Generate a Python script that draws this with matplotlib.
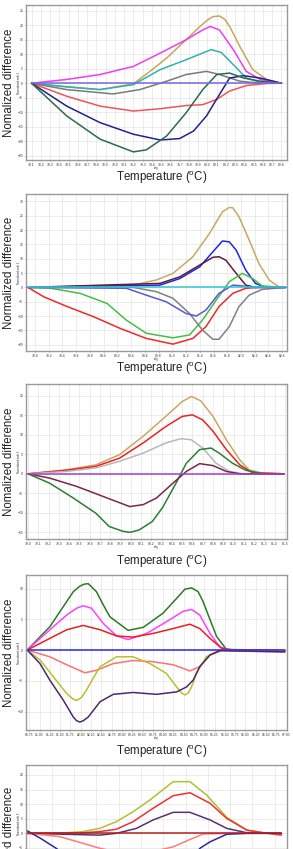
import numpy as np
import matplotlib
matplotlib.use("Agg")
import matplotlib.pyplot as plt

plt.rcParams["font.family"] = ["Liberation Sans", "DejaVu Sans"]
plt.rcParams["mathtext.fontset"] = "custom"
plt.rcParams["mathtext.rm"] = "Liberation Sans"

# ── panel 1 ────────────────────────────────────────────────
P1_GOLD_T = [78.1, 78.48, 78.84, 79.2, 79.38, 79.56, 79.77, 79.92, 80.0, 80.06, 80.13, 80.19, 80.24, 80.35, 80.49, 80.64, 80.8]
P1_GOLD_V = [0, -1.3, -2.2, -0.2, 4.1, 8.7, 15, 19.6, 21.8, 23, 23.2, 22, 19.6, 12.7, 4.7, 1.3, 0]
P1_MAG_T = [78.1, 78.48, 78.84, 79.2, 79.49, 79.77, 79.95, 80.03, 80.13, 80.28, 80.42, 80.57, 80.8]
P1_MAG_V = [0, 1.3, 3, 5.8, 10.4, 15, 18.4, 19.6, 18.4, 11.6, 4.1, 1.3, 0]
P1_TEAL_T = [78.1, 78.48, 78.84, 79.2, 79.49, 79.77, 80.04, 80.15, 80.28, 80.42, 80.57, 80.8]
P1_TEAL_V = [0, -1.2, -2.2, -0.5, 4.7, 8.1, 11.6, 10.6, 6.4, 1.8, 0.3, 0]
P1_GRAY_T = [78.1, 78.48, 78.98, 79.27, 79.56, 79.77, 79.99, 80.13, 80.35, 80.57, 80.8]
P1_GRAY_V = [0, -2.2, -3.7, -2.2, 0.7, 3, 4.1, 3, 0.7, 0, 0]
P1_RED_T = [78.1, 78.48, 78.84, 79.2, 79.49, 79.77, 79.95, 80.1, 80.24, 80.42, 80.64, 80.8]
P1_RED_V = [0, -4.5, -7.9, -9.6, -8.8, -7.7, -7.4, -5.6, -2.7, -0.8, -0.1, 0]
P1_NAVY_T = [78.1, 78.48, 78.84, 79.2, 79.49, 79.7, 79.85, 79.99, 80.13, 80.24, 80.39, 80.57, 80.8]
P1_NAVY_V = [0, -7.9, -13.6, -17.6, -19.6, -19.1, -16.5, -11.3, -3.9, 1.8, 2.6, 1.8, 0]
P1_GREEN_T = [78.1, 78.48, 78.84, 79.2, 79.34, 79.56, 79.77, 79.95, 80.1, 80.24, 80.39, 80.57, 80.8]
P1_GREEN_V = [0, -11.3, -19.3, -23.7, -23, -18.2, -10.2, -2.2, 3, 3.5, 1.8, 0.7, 0]
P1_FLAT_T = [78.1, 80.8]
P1_FLAT_V = [0, 0]

# ── panel 2 ────────────────────────────────────────────────
P2_GOLD_T = [78.9, 80.43, 80.77, 81.01, 81.3, 81.54, 81.73, 81.83, 81.88, 81.97, 82.12, 82.26, 82.41, 82.55, 82.65]
P2_GOLD_V = [0, 0.8, 2.6, 4.9, 10.7, 18.8, 26.4, 27.9, 27.8, 24.7, 16.5, 8.4, 2.6, 0.2, 0]
P2_BLUE_T = [78.9, 80.82, 81.11, 81.4, 81.59, 81.73, 81.83, 81.93, 82.07, 82.21, 82.36, 82.65]
P2_BLUE_V = [0, 0.8, 3.1, 7.2, 12.4, 16.2, 15.9, 13, 6, 1.4, 0, 0]
P2_MAROON_T = [78.9, 80.82, 81.11, 81.4, 81.59, 81.68, 81.78, 81.93, 82.07, 82.21, 82.65]
P2_MAROON_V = [0, 1.4, 3.7, 7.8, 10.5, 10.7, 9.5, 4.9, 0.8, 0, 0]
P2_GREEN_T = [78.9, 79.23, 79.66, 80.05, 80.33, 80.62, 81.01, 81.25, 81.44, 81.64, 81.83, 82.02, 82.17, 82.31, 82.65]
P2_GREEN_V = [0, -0.3, -2.1, -5.6, -11.4, -16, -17.6, -16.6, -11.4, -4.4, 2, 4.9, 3.1, 0.5, 0]
P2_RED_T = [78.9, 79.13, 79.47, 79.85, 80.24, 80.62, 81.01, 81.3, 81.49, 81.68, 81.88, 82.07, 82.26, 82.65]
P2_RED_V = [0, -3.3, -6.7, -10.2, -14.3, -17.8, -19.8, -17.8, -13.7, -6.7, -2.1, -0.3, 0, 0]
P2_GRAY_T = [78.9, 80.43, 80.77, 81.01, 81.25, 81.44, 81.59, 81.68, 81.83, 81.97, 82.12, 82.31, 82.65]
P2_GRAY_V = [0, 0, -1.5, -3.8, -9.1, -14.9, -18.1, -18.1, -13.7, -6.7, -2.7, -0.7, 0]
P2_SLATE_T = [78.9, 80.33, 80.62, 80.91, 81.2, 81.35, 81.49, 81.68, 81.88, 82.02, 82.17, 82.65]
P2_SLATE_V = [0, -0.3, -2.7, -5, -9.1, -10, -7.9, -2.1, 0.8, 0.5, 0, 0]
P2_FLAT_T = [78.9, 82.65]
P2_FLAT_V = [0, 0]

# ── panel 3 ────────────────────────────────────────────────
P3_GOLD_T = [79.0, 79.37, 79.66, 79.89, 80.12, 80.34, 80.5, 80.59, 80.68, 80.8, 80.93, 81.06, 81.15, 81.28, 81.49]
P3_GOLD_V = [0, 1, 2.3, 4.9, 9.6, 14.7, 18.5, 19.8, 18.7, 14.7, 8.7, 3.6, 1, 0.2, 0]
P3_RED_T = [79.0, 79.37, 79.66, 79.89, 80.12, 80.34, 80.5, 80.6, 80.7, 80.8, 80.93, 81.06, 81.18, 81.49]
P3_RED_V = [0, 0.9, 1.9, 4, 7.9, 12.1, 14.7, 15.1, 13.8, 10.9, 6.2, 2.3, 0.3, 0]
P3_LGRAY_T = [79.0, 79.37, 79.66, 79.89, 80.12, 80.34, 80.49, 80.59, 80.7, 80.83, 80.96, 81.09, 81.49]
P3_LGRAY_V = [0, 0.6, 1.5, 3.2, 5.3, 7.9, 9, 8.7, 6.6, 2.7, 0.6, 0, 0]
P3_GREEN_T = [79.0, 79.21, 79.44, 79.66, 79.79, 79.92, 79.99, 80.08, 80.21, 80.31, 80.44, 80.54, 80.67, 80.78, 80.86, 80.99, 81.12, 81.28, 81.49]
P3_GREEN_V = [0, -2.4, -6.2, -10.1, -13.5, -14.7, -15, -14.4, -12.2, -8.6, -2.4, 2.7, 6.2, 6.6, 5.3, 2.7, 0.9, 0, 0]
P3_MAROON_T = [79.0, 79.21, 79.47, 79.73, 79.99, 80.12, 80.25, 80.41, 80.54, 80.67, 80.8, 80.93, 81.06, 81.49]
P3_MAROON_V = [0, -1.1, -3.2, -5.8, -8.4, -7.9, -6.2, -2.4, 0.6, 2.6, 2.1, 0.6, 0, 0]
P3_FLAT_T = [79.0, 81.49]
P3_FLAT_V = [0, 0]

# ── panel 4 ────────────────────────────────────────────────
P4_DGREEN_T = [80.7, 81.25, 81.66, 81.82, 81.98, 82.08, 82.18, 82.38, 82.55, 82.71, 83.15, 83.52, 84.0, 84.41, 84.53, 84.69, 84.85, 84.97, 85.05, 85.3, 85.54, 86.96]
P4_DGREEN_V = [0, 3.8, 7.9, 9.5, 10.4, 10.7, 10.8, 9.5, 7.3, 5.4, 3.2, 3.7, 6, 9, 9.9, 10.1, 9.5, 7.9, 6.5, 2.2, 0.1, -0.1]
P4_MAG_T = [80.7, 81.25, 81.66, 81.9, 82.06, 82.26, 82.55, 82.87, 83.15, 83.6, 84.08, 84.49, 84.69, 84.89, 85.14, 85.38, 85.62, 86.96]
P4_MAG_V = [0, 3.3, 5.7, 6.8, 7.2, 6.8, 4.3, 2.3, 1.7, 2.7, 4.6, 6.3, 6.6, 5.7, 2.7, 0.5, 0, -0.1]
P4_RED_T = [80.7, 81.25, 81.66, 82.06, 82.47, 82.87, 83.27, 83.76, 84.25, 84.65, 84.89, 85.14, 85.42, 85.7, 86.96]
P4_RED_V = [0, 1.9, 3.3, 4, 3.3, 2.3, 2.1, 2.7, 3.5, 4.2, 3.5, 1.9, 0.3, 0, -0.1]
P4_SALMON_T = [80.7, 81.25, 81.66, 82.1, 82.38, 82.79, 83.27, 83.76, 84.25, 84.65, 84.89, 85.14, 85.42, 86.96]
P4_SALMON_V = [0, -1.1, -2.4, -3.7, -3.3, -2.2, -1.7, -1.9, -2.4, -3.4, -2.7, -0.8, -0.1, -0.3]
P4_OLIVE_T = [80.7, 81.01, 81.33, 81.66, 81.82, 81.9, 82.02, 82.14, 82.3, 82.47, 82.87, 83.27, 83.68, 84.08, 84.33, 84.45, 84.53, 84.61, 84.69, 84.81, 85.05, 85.38, 86.96]
P4_OLIVE_V = [0, -1.6, -4.3, -7.1, -8.0, -8.2, -7.7, -6.5, -4.6, -2.7, -1.1, -1.1, -2.2, -3.8, -6, -7.0, -7.3, -7.0, -6, -3.8, -1.1, 0, -0.1]
P4_PURPLE_T = [80.7, 81.01, 81.25, 81.58, 81.82, 81.9, 81.98, 82.06, 82.18, 82.47, 82.79, 83.27, 83.84, 84.33, 84.57, 84.73, 84.89, 85.14, 85.38, 86.96]
P4_PURPLE_V = [0, -2.2, -4.9, -8.2, -10.9, -11.5, -11.7, -11.5, -10.9, -8.4, -7.2, -6.9, -7.2, -6.8, -6, -4.9, -2.7, -0.8, -0.1, -0.3]
P4_FLAT_T = [80.7, 86.96]
P4_FLAT_V = [0, 0]

# ── panel 5 (bottom cut off in the source) ────────────────
P5_OLIVE_T = [83.98, 84.33, 84.48, 84.63, 84.78, 84.93, 85.08, 85.29, 85.44, 85.59, 85.77, 85.95, 86.1, 86.26]
P5_OLIVE_V = [0, 0.2, 0.6, 1.7, 4, 7.4, 11.4, 17.7, 17.7, 13.1, 5.5, 1.1, 0.2, -0.2]
P5_RED_T = [83.98, 84.48, 84.63, 84.78, 84.93, 85.11, 85.29, 85.44, 85.62, 85.77, 85.95, 86.1, 86.26]
P5_RED_V = [0, 0.2, 0.6, 1.4, 4, 8.6, 12.9, 13.9, 10.3, 5.1, 1.1, 0.2, -0.6]
P5_PURPLE_T = [83.98, 84.63, 84.78, 84.96, 85.11, 85.29, 85.44, 85.62, 85.77, 85.95, 86.26]
P5_PURPLE_V = [0, -0.6, 0, 1.7, 4.6, 7.2, 7.2, 4.6, 1.7, 0.2, 0]
P5_SALMON_T = [83.98, 84.27, 84.48, 84.63, 84.78, 84.93, 85.11, 85.29, 85.44, 85.56, 85.83, 86.26]
P5_SALMON_V = [0, -1.1, -3.4, -5.1, -6.3, -6.8, -6.2, -4.6, -2.1, -0.2, 0, 0]
P5_NAVY_T = [83.98, 84.1, 84.24, 84.48, 84.78, 85.0, 85.25, 85.44, 85.53, 85.62, 85.77, 85.95, 86.26]
P5_NAVY_V = [0.9, -1.7, -5.1, -12, -19, -21, -17, -9, -5.1, -2.9, -0.3, 0, 0]
P5_FLAT_T = [83.98, 86.26]
P5_FLAT_V = [0, 0]

# ── styling ───────────────────────────────────────────────
panels = [
    dict(series=[(P1_GOLD_T, P1_GOLD_V, "#c9a55a"), (P1_MAG_T, P1_MAG_V, "#f03cf0"),
                 (P1_TEAL_T, P1_TEAL_V, "#2eb3b0"), (P1_GRAY_T, P1_GRAY_V, "#7a7a7a"),
                 (P1_RED_T, P1_RED_V, "#f05555"), (P1_NAVY_T, P1_NAVY_V, "#22228c"),
                 (P1_GREEN_T, P1_GREEN_V, "#2b6b4a"), (P1_FLAT_T, P1_FLAT_V, "#7468e6")],
         xt=np.round(np.arange(78.1, 80.81, 0.1), 2), fmt="{:.1f}", xlim=(78.04, 80.86),
         yt=np.arange(-25, 26, 5), ylim=(-26.5, 27), top=5, bot=160,
         ylab="Nomalized difference", xlab_y=178),
    dict(series=[(P2_GOLD_T, P2_GOLD_V, "#c8a860"), (P2_BLUE_T, P2_BLUE_V, "#2424e0"),
                 (P2_MAROON_T, P2_MAROON_V, "#5a1e3c"), (P2_GREEN_T, P2_GREEN_V, "#44c044"),
                 (P2_RED_T, P2_RED_V, "#f02828"), (P2_GRAY_T, P2_GRAY_V, "#808080"),
                 (P2_SLATE_T, P2_SLATE_V, "#5858d8"), (P2_FLAT_T, P2_FLAT_V, "#30c8d0")],
         xt=np.round(np.arange(79.0, 82.61, 0.2), 2), fmt="{:.1f}", xlim=(78.87, 82.67),
         yt=np.arange(-20, 31, 5), ylim=(-22.2, 32.6), top=194, bot=351,
         ylab="Normalized difference", xlab_y=369),
    dict(series=[(P3_GOLD_T, P3_GOLD_V, "#c8a860"), (P3_RED_T, P3_RED_V, "#f02020"),
                 (P3_LGRAY_T, P3_LGRAY_V, "#b8b8b8"), (P3_GREEN_T, P3_GREEN_V, "#2a8030"),
                 (P3_MAROON_T, P3_MAROON_V, "#7a2848"), (P3_FLAT_T, P3_FLAT_V, "#a040d0")],
         xt=np.round(np.arange(79.0, 81.51, 0.1), 2), fmt="{:.1f}", xlim=(78.98, 81.52),
         yt=np.arange(-15, 21, 5), ylim=(-16.7, 23), top=384, bot=539,
         ylab="Nomalized difference", xlab_y=562),
    dict(series=[(P4_DGREEN_T, P4_DGREEN_V, "#2a7a2a"), (P4_MAG_T, P4_MAG_V, "#ff40ff"),
                 (P4_RED_T, P4_RED_V, "#e82020"), (P4_SALMON_T, P4_SALMON_V, "#ff7070"),
                 (P4_OLIVE_T, P4_OLIVE_V, "#b8c030"), (P4_PURPLE_T, P4_PURPLE_V, "#50286a"),
                 (P4_FLAT_T, P4_FLAT_V, "#2828f0")],
         xt=np.round(np.arange(80.75, 87.01, 0.25), 2), fmt="{:.2f}", xlim=(80.67, 87.01),
         yt=np.arange(-10, 11, 5), ylim=(-13, 12.2), top=575, bot=730,
         ylab="Nomalized difference", xlab_y=752),
    dict(series=[(P5_OLIVE_T, P5_OLIVE_V, "#b0c030"), (P5_RED_T, P5_RED_V, "#f03030"),
                 (P5_PURPLE_T, P5_PURPLE_V, "#5a3070"), (P5_SALMON_T, P5_SALMON_V, "#ff7a7a"),
                 (P5_NAVY_T, P5_NAVY_V, "#2a2aa0"), (P5_FLAT_T, P5_FLAT_V, "#b02020")],
         xt=np.round(np.arange(84.0, 86.21, 0.2), 2), fmt="{:.1f}", xlim=(83.97, 86.31),
         yt=np.arange(-30, 21, 5), ylim=(-30, 23.4), top=765, bot=921,
         ylab="Normalized difference", xlab_y=None),
]

W, H = 293, 849
fig = plt.figure(figsize=(W / 100, H / 100), dpi=100)
L, R = 26, 287

for i, p in enumerate(panels):
    ax = fig.add_axes([L / W, 1 - p["bot"] / H, (R - L) / W, (p["bot"] - p["top"]) / H])
    for t, v, c in p["series"]:
        ax.plot(t, v, color=c, lw=1.1, solid_capstyle="round", solid_joinstyle="round")
    ax.set_xlim(*p["xlim"]); ax.set_ylim(*p["ylim"])
    ax.set_xticks(p["xt"])
    ax.set_xticklabels([p["fmt"].format(x) for x in p["xt"]])
    ax.set_yticks(p["yt"])
    ax.tick_params(labelsize=2.4, length=1, width=0.4, pad=1, colors="#333333")
    ax.grid(color="#e4e4e4", lw=0.5)
    ax.set_axisbelow(True)
    for s in ax.spines.values():
        s.set_color("#9a9a9a"); s.set_linewidth(1.0)
    ax.set_xlabel("deg", fontsize=2, labelpad=0, color="#333333")
    ax.xaxis.set_label_coords(0.5, -0.036)
    ax.set_ylabel(f"Normalized melt {i + 1}", fontsize=2, color="#333333")
    ax.yaxis.set_label_coords(-0.018, 0.62 if i == 4 else 0.5)

    yc = (p["top"] + p["bot"]) / 2
    fig.text(9 / W, 1 - yc / H, p["ylab"], rotation=90, ha="center", va="center",
             fontsize=8.3, color="#222222")
    if p["xlab_y"] is not None:
        fig.text(162 / W, 1 - p["xlab_y"] / H, r"Temperature ($^\mathrm{o}$C)",
                 ha="center", va="center", fontsize=8.3, color="#222222")

fig.savefig("out.png", dpi=100)
